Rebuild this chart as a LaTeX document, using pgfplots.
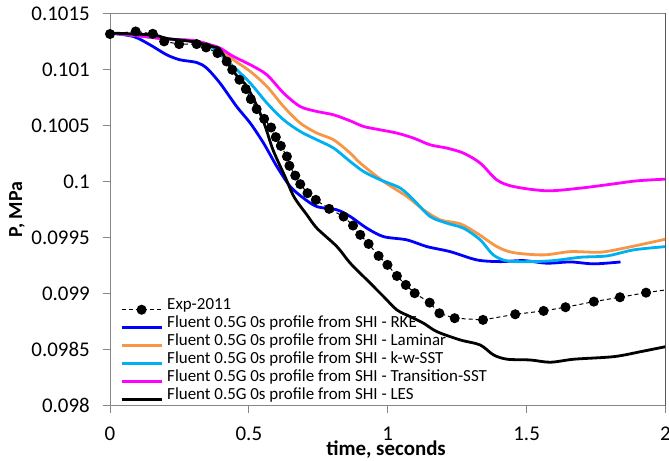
\documentclass[border=0pt]{standalone}
\usepackage{pgfplots}
\pgfplotsset{compat=1.18}
\usepackage{fontspec}
\setmainfont{Carlito}
\definecolor{rke}{RGB}{0,0,255}
\definecolor{lam}{RGB}{247,150,70}
\definecolor{kw}{RGB}{0,176,240}
\definecolor{tsst}{RGB}{255,0,255}
\definecolor{axgray}{RGB}{134,134,134}
\begin{document}
\begin{tikzpicture}
\begin{axis}[
 at={(0,0)}, anchor=south west,
 scale only axis, width=555.5bp, height=392.2bp,
 xmin=0, xmax=2, ymin=0.098, ymax=0.1015,
 xtick={0,0.5,1,1.5,2}, xticklabels={0,0.5,1,1.5,2},
 ytick={0.098,0.0985,0.099,0.0995,0.1,0.1005,0.101,0.1015},
 yticklabels={0.098,0.0985,0.099,0.0995,0.1,0.1005,0.101,0.1015},
 scaled y ticks=false, scaled x ticks=false,
 tick pos=left, tick align=outside, major tick length=7bp,
 every tick/.style={axgray, line width=0.8bp},
 axis line style={axgray, line width=0.8bp},
 ticklabel style={font=\fontsize{21}{24}\selectfont},
 yticklabel style={inner sep=0pt, anchor=east, xshift=-13bp},
 xticklabel style={inner sep=0pt, anchor=north, yshift=-14.5bp},
 xlabel={time, seconds}, ylabel={P, MPa},
 xlabel style={font=\bfseries\fontsize{21}{24}\selectfont, at={(axis description cs:0.497,-0.1275)}, anchor=base},
 ylabel style={font=\bfseries\fontsize{20}{24}\selectfont, at={(axis description cs:-0.1674,0.5)}, anchor=center},
 legend style={at={(axis description cs:0.018,0.004)}, anchor=south west,
   draw=none, fill=none, inner sep=0pt, column sep=4bp, row sep=1.4bp,
   font=\fontsize{17}{18}\selectfont,
   nodes={inner sep=0.25bp, text height=12bp, text depth=4bp, anchor=base west}},
 legend cell align=left,
 legend image code/.code={\draw[mark repeat=2,mark phase=2] plot coordinates {(0bp,0bp) (20bp,0bp) (40bp,0bp)};},
]
\addplot[black, line width=1bp, dash pattern=on 4bp off 3bp, mark=*, mark size=4.5bp, mark options={solid}] table {
0 0.101315
0.0925 0.101338
0.154 0.101317
0.195 0.101249
0.249 0.101225
0.312 0.101225
0.346 0.101195
0.387 0.101145
0.42 0.10107
0.44 0.100996
0.466 0.100907
0.489 0.100824
0.507 0.100734
0.528 0.100645
0.555 0.100558
0.58 0.100481
0.597 0.100395
0.615 0.100317
0.637 0.100222
0.646 0.100139
0.667 0.100052
0.685 0.099975
0.711 0.099895
0.741 0.099835
0.789 0.099755
0.841 0.099686
0.875 0.099606
0.901 0.099523
0.931 0.099442
0.967 0.099335
0.999 0.099255
1.033 0.099156
1.065 0.099076
1.097 0.099002
1.151 0.098918
1.186 0.098823
1.241 0.098779
1.343 0.098764
1.459 0.098814
1.561 0.098844
1.640 0.098877
1.742 0.098927
1.836 0.098966
1.930 0.099007
};
\addlegendentry{Exp-2011}
\addplot[black, line width=1bp, dash pattern=on 4bp off 3bp, forget plot] table {
1.930 0.099007
2.0 0.099031
};
\addplot[rke, line width=2.8bp, smooth] table {
0 0.101324
0.084 0.101293
0.144 0.101219
0.204 0.10113
0.252 0.101085
0.312 0.101061
0.348 0.101011
0.396 0.100877
0.456 0.100668
0.505 0.10052
0.553 0.100341
0.601 0.100132
0.649 0.099954
0.697 0.09985
0.745 0.099775
0.817 0.099746
0.865 0.099686
0.925 0.099582
0.985 0.099507
1.069 0.099478
1.141 0.099418
1.225 0.099373
1.321 0.099299
1.405 0.099284
1.489 0.099293
1.573 0.09927
1.658 0.099281
1.742 0.099264
1.838 0.099281
};
\addlegendentry{Fluent 0.5G 0s profile from SHI - RKE}
\addplot[lam, line width=2.8bp, smooth] table {
0 0.101324
0.1 0.10130
0.2 0.10127
0.3 0.101255
0.36 0.101219
0.40 0.10117
0.444 0.101085
0.505 0.100981
0.565 0.100847
0.625 0.100668
0.685 0.10052
0.745 0.100431
0.805 0.100371
0.865 0.100252
0.901 0.100163
0.985 0.099999
1.069 0.099865
1.129 0.099746
1.189 0.099657
1.261 0.099621
1.321 0.099538
1.393 0.099418
1.453 0.099364
1.561 0.099344
1.658 0.099373
1.766 0.099368
1.850 0.099404
1.934 0.099448
2.0 0.099484
};
\addlegendentry{Fluent 0.5G 0s profile from SHI - Laminar}
\addplot[kw, line width=2.8bp, smooth] table {
0 0.101324
0.1 0.10130
0.2 0.10127
0.3 0.10125
0.36 0.10121
0.444 0.101025
0.505 0.100877
0.565 0.100699
0.625 0.10055
0.685 0.100445
0.745 0.100371
0.805 0.100297
0.865 0.100177
0.913 0.100088
0.973 0.100014
1.045 0.09994
1.093 0.099835
1.153 0.099686
1.213 0.099627
1.273 0.099582
1.333 0.099478
1.38 0.099344
1.430 0.09929
1.514 0.099284
1.597 0.099293
1.694 0.099323
1.790 0.099335
1.886 0.099389
2.0 0.099418
};
\addlegendentry{Fluent 0.5G 0s profile from SHI - k-w-SST}
\addplot[tsst, line width=2.8bp, smooth] table {
0 0.101324
0.1 0.10130
0.204 0.10127
0.3 0.101258
0.36 0.101219
0.396 0.10119
0.444 0.101115
0.505 0.101041
0.565 0.100951
0.625 0.100788
0.685 0.100668
0.745 0.100624
0.805 0.100594
0.865 0.10054
0.913 0.10049
0.973 0.10046
1.033 0.100431
1.093 0.100386
1.153 0.100326
1.213 0.100297
1.273 0.100252
1.333 0.100163
1.393 0.100013
1.453 0.099954
1.573 0.099916
1.694 0.09994
1.814 0.099978
1.898 0.100005
2.0 0.10002
};
\addlegendentry{Fluent 0.5G 0s profile from SHI - Transition-SST}
\addplot[black, line width=2.8bp, smooth] table {
0 0.101324
0.155 0.101306
0.204 0.101276
0.3 0.101246
0.372 0.101201
0.396 0.101175
0.44 0.100996
0.47 0.100907
0.493 0.100847
0.530 0.100668
0.559 0.10049
0.587 0.10028
0.63 0.100043
0.663 0.09986
0.709 0.099701
0.745 0.099582
0.817 0.099418
0.865 0.09927
0.925 0.099121
0.985 0.098972
1.033 0.098853
1.081 0.098793
1.129 0.098734
1.177 0.098659
1.261 0.098585
1.333 0.09854
1.381 0.098451
1.430 0.098413
1.514 0.098406
1.586 0.098386
1.670 0.098413
1.814 0.098436
1.910 0.09848
2.0 0.098525
};
\addlegendentry{Fluent 0.5G 0s profile from SHI - LES}
\draw[black!75, line width=0.8bp] (rel axis cs:1,0) -- (rel axis cs:1,1);
\end{axis}
\pgfresetboundingbox
\path[use as bounding box] (-110bp,-55.5bp) rectangle (559bp,405.5bp);
\end{tikzpicture}
\end{document}
